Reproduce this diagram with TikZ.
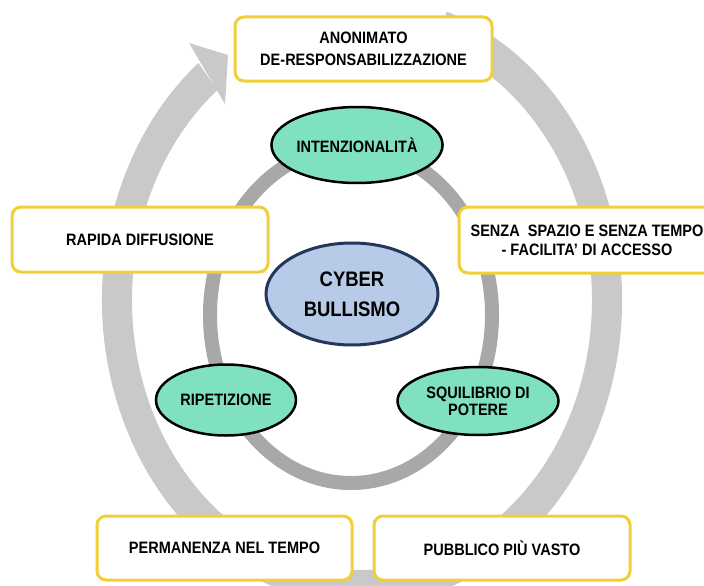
\documentclass[tikz,border=0pt]{standalone}
\usepackage{fontspec}
\setmainfont[FakeStretch=0.88]{Liberation Sans}
\usetikzlibrary{calc,shapes.geometric}
\definecolor{ringlight}{HTML}{C9C9C9}
\definecolor{ringdark}{HTML}{A8A8A8}
\definecolor{boxgold}{HTML}{F0D03A}
\definecolor{mint}{HTML}{80E0C2}
\definecolor{cyberfill}{HTML}{B7CBE8}
\definecolor{cyberdraw}{HTML}{22375A}
\begin{document}
\begin{tikzpicture}[x=1pt,y=-1pt,
  featbox/.style={draw=boxgold, line width=3pt, fill=white, rounded corners=9pt,
    align=center, inner sep=0pt, font=\fontsize{16.5}{22}\selectfont\bfseries},
  traitell/.style={ellipse, draw=black, line width=2.5pt, fill=mint, inner sep=0pt,
    align=center, font=\fontsize{16.5}{17}\selectfont\bfseries},
  coreell/.style={ellipse, draw=cyberdraw, line width=3pt, fill=cyberfill, inner sep=0pt,
    align=center, font=\fontsize{21}{30}\selectfont\bfseries}]
\useasboundingbox (0,0) rectangle (704,586);
\clip (0,0) rectangle (704,586);
\fill[white] (0,0) rectangle (704,586);
\coordinate (C) at (362,300);
% outer circular arrow
\fill[ringlight] ($(C)+(-71:260 and 305)$) arc[start angle=-71, end angle=231, x radius=260, y radius=305]
  -- ($(C)+(231:230 and 270)$) arc[start angle=231, end angle=-71, x radius=230, y radius=270] -- cycle;
\fill[ringlight] (189,43) -- (228,55) -- (225,104) -- cycle;
% inner ring
\coordinate (I) at (351,315);
\draw[ringdark, line width=14pt] (I) ellipse [x radius=141, y radius=168];
% boxes
\node[featbox, minimum width=257pt, minimum height=64pt] (anon) at (363.5,49) {ANONIMATO\\DE-RESPONSABILIZZAZIONE};
\node[featbox, minimum width=256pt, minimum height=65pt] (rapida) at (140,239.5) {RAPIDA DIFFUSIONE};
\node[featbox, minimum width=256pt, minimum height=66pt, font=\fontsize{16.5}{19}\selectfont\bfseries] (senza) at (587,240) {SENZA\ \ SPAZIO E SENZA TEMPO\\- FACILITA’ DI ACCESSO};
\node[featbox, minimum width=255pt, minimum height=64pt] (perm) at (224.5,548) {PERMANENZA NEL TEMPO};
\node[featbox, minimum width=256pt, minimum height=64pt] (pubb) at (502,548) {PUBBLICO PIÙ VASTO};
% ellipses
\node[traitell, minimum width=170pt, minimum height=76pt] (intenz) at (357,145) {INTENZIONALITÀ};
\node[traitell, minimum width=140pt, minimum height=71pt] (ripet) at (226,400) {RIPETIZIONE};
\node[traitell, minimum width=161pt, minimum height=68pt] (squil) at (478,401) {SQUILIBRIO DI\\POTERE};
\node[coreell, minimum width=172pt, minimum height=102pt] (cyber) at (352,294) {CYBER\\BULLISMO};
\end{tikzpicture}
\end{document}
